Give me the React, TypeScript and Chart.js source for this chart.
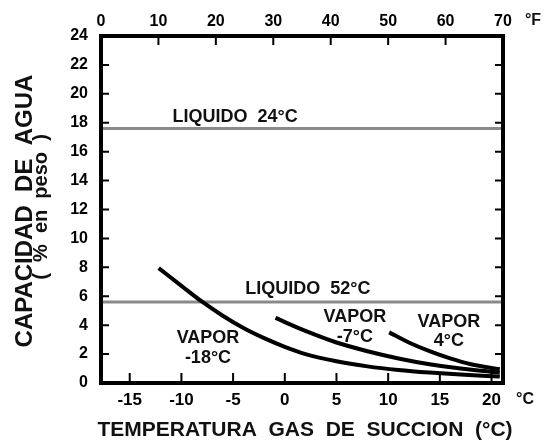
import React, { useEffect, useRef } from "react";
import { Chart, registerables } from "chart.js";

Chart.register(...registerables);

// Axis ranges / tick labels
const celsiusMin = -17.78;
const celsiusMax = 21.11;
const celsiusTicks = [-15, -10, -5, 0, 5, 10, 15, 20];
const fahrenheitTicks = [0, 10, 20, 30, 40, 50, 60, 70];
const capacityTicks = [0, 2, 4, 6, 8, 10, 12, 14, 16, 18, 20, 22, 24];

// Series values
const vapor18X = [-12.2, -10, -8, -6, -4, -2, 0, 2, 5, 8, 11, 14, 17, 20.8];
const vapor18Y = [7.95, 6.72, 5.62, 4.65, 3.8, 3.1, 2.5, 2.0, 1.5, 1.15, 0.9, 0.72, 0.58, 0.45];
const vapor7X = [-0.9, 2, 5, 8, 11, 14, 17, 20.8];
const vapor7Y = [4.5, 3.6, 2.8, 2.2, 1.7, 1.3, 1.0, 0.72];
const vapor4X = [10.1, 12, 14, 16, 18, 20.8];
const vapor4Y = [3.5, 2.8, 2.2, 1.7, 1.3, 0.95];
const liquido24Value = 17.6;
const liquido52Value = 5.6;

// Annotations (data coordinates)
const annotationTexts = ["LIQUIDO  24°C", "LIQUIDO  52°C", "VAPOR", "-18°C", "VAPOR", "-7°C", "VAPOR", "4°C"];
const annotationX = [-4.8, 2.24, -7.43, -7.43, 6.78, 6.78, 15.88, 15.88];
const annotationY = [18.4, 6.5, 3.11, 1.73, 4.56, 3.18, 4.22, 2.9];

const FONT = "'Liberation Sans', Arial, sans-serif";

const toPoints = (xs: number[], ys: number[]) => xs.map((x, i) => ({ x, y: ys[i] }));

const overlayPlugin = {
  id: "overlay",
  afterDraw(chart: any) {
    const { ctx, chartArea: a, scales } = chart;
    const sx = scales.x;
    const sx2 = scales.x2;
    const sy = scales.y;
    ctx.save();
    ctx.strokeStyle = "#000";
    ctx.lineWidth = 2;
    ctx.beginPath();
    celsiusTicks.forEach((v) => {
      const px = sx.getPixelForValue(v);
      if (px > a.left + 4 && px < a.right - 4) {
        ctx.moveTo(px, a.bottom);
        ctx.lineTo(px, a.bottom - 10);
      }
    });
    fahrenheitTicks.forEach((v) => {
      const px = sx2.getPixelForValue(v);
      if (px > a.left + 4 && px < a.right - 4) {
        ctx.moveTo(px, a.top);
        ctx.lineTo(px, a.top + 9);
      }
    });
    capacityTicks.forEach((v) => {
      const py = sy.getPixelForValue(v);
      if (py > a.top + 4 && py < a.bottom - 4) {
        ctx.moveTo(a.left, py);
        ctx.lineTo(a.left + 8, py);
        ctx.moveTo(a.right, py);
        ctx.lineTo(a.right - 8, py);
      }
    });
    ctx.stroke();

    ctx.lineWidth = 4;
    ctx.strokeRect(a.left, a.top, a.right - a.left, a.bottom - a.top);

    ctx.fillStyle = "#111";
    ctx.textAlign = "center";
    ctx.textBaseline = "middle";
    ctx.font = `bold 18px ${FONT}`;
    annotationTexts.forEach((t, i) => {
      ctx.fillText(t, sx.getPixelForValue(annotationX[i]), sy.getPixelForValue(annotationY[i]));
    });

    // unit labels
    ctx.font = `bold 16px ${FONT}`;
    ctx.fillText("°F", 533, 21);
    ctx.fillText("°C", 525, 400);

    // x title
    ctx.font = `bold 21px ${FONT}`;
    ctx.fillText("TEMPERATURA  GAS  DE  SUCCION  (°C)", 305, 430);

    // y title
    ctx.save();
    ctx.translate(25, 211);
    ctx.rotate(-Math.PI / 2);
    ctx.font = `bold 24px ${FONT}`;
    ctx.fillText("CAPACIDAD  DE  AGUA", 0, 0);
    ctx.restore();
    ctx.save();
    ctx.translate(41, 207);
    ctx.rotate(-Math.PI / 2);
    ctx.font = `bold 20px ${FONT}`;
    ctx.fillText("(  %  en  peso  )", 0, 0);
    ctx.restore();

    ctx.restore();
  },
};

export default function App() {
  const ref = useRef<HTMLCanvasElement | null>(null);

  useEffect(() => {
    document.body.style.margin = "0";
    if (!ref.current) return;
    const tickFont = { family: FONT, size: 16, weight: "bold" as const };
    const curve = (xs: number[], ys: number[]) => ({
      data: toPoints(xs, ys),
      borderColor: "#000",
      borderWidth: 4,
      pointRadius: 0,
      cubicInterpolationMode: "monotone" as const,
      order: 0,
    });
    const flat = (v: number) => ({
      data: [
        { x: celsiusMin, y: v },
        { x: celsiusMax, y: v },
      ],
      borderColor: "#8a8a8a",
      borderWidth: 3,
      pointRadius: 0,
      order: 1,
    });
    const chart = new Chart(ref.current, {
      type: "line",
      data: {
        datasets: [
          curve(vapor18X, vapor18Y),
          curve(vapor7X, vapor7Y),
          curve(vapor4X, vapor4Y),
          flat(liquido24Value),
          flat(liquido52Value),
        ],
      },
      options: {
        animation: false,
        responsive: false,
        events: [],
        layout: { padding: { right: 41, top: 0, left: 0, bottom: 0 } },
        plugins: { legend: { display: false }, tooltip: { enabled: false } },
        scales: {
          x: {
            type: "linear",
            position: "bottom",
            min: celsiusMin,
            max: celsiusMax,
            grid: { display: false, drawTicks: false },
            border: { display: false },
            afterBuildTicks: (s: any) => {
              s.ticks = celsiusTicks.map((value) => ({ value }));
            },
            afterFit: (s: any) => {
              s.height = 58;
            },
            ticks: { color: "#000", font: { ...tickFont, size: 17 }, padding: 7, maxRotation: 0, autoSkip: false },
          },
          x2: {
            type: "linear",
            position: "top",
            min: fahrenheitTicks[0],
            max: fahrenheitTicks[fahrenheitTicks.length - 1],
            grid: { display: false, drawTicks: false },
            border: { display: false },
            afterBuildTicks: (s: any) => {
              s.ticks = fahrenheitTicks.map((value) => ({ value }));
            },
            afterFit: (s: any) => {
              s.height = 36;
            },
            ticks: { color: "#000", font: tickFont, padding: 5, maxRotation: 0, autoSkip: false },
          },
          y: {
            type: "linear",
            position: "left",
            min: capacityTicks[0],
            max: capacityTicks[capacityTicks.length - 1],
            grid: { display: false, drawTicks: false },
            border: { display: false },
            afterBuildTicks: (s: any) => {
              s.ticks = capacityTicks.map((value) => ({ value }));
            },
            afterFit: (s: any) => {
              s.width = 101;
            },
            ticks: { color: "#000", font: tickFont, padding: 13, autoSkip: false },
          },
        },
      },
      plugins: [overlayPlugin],
    } as any);
    return () => chart.destroy();
  }, []);

  return (
    <div style={{ width: 544, height: 441, background: "#fff" }}>
      <canvas ref={ref} width={544} height={441} style={{ display: "block" }} />
    </div>
  );
}
